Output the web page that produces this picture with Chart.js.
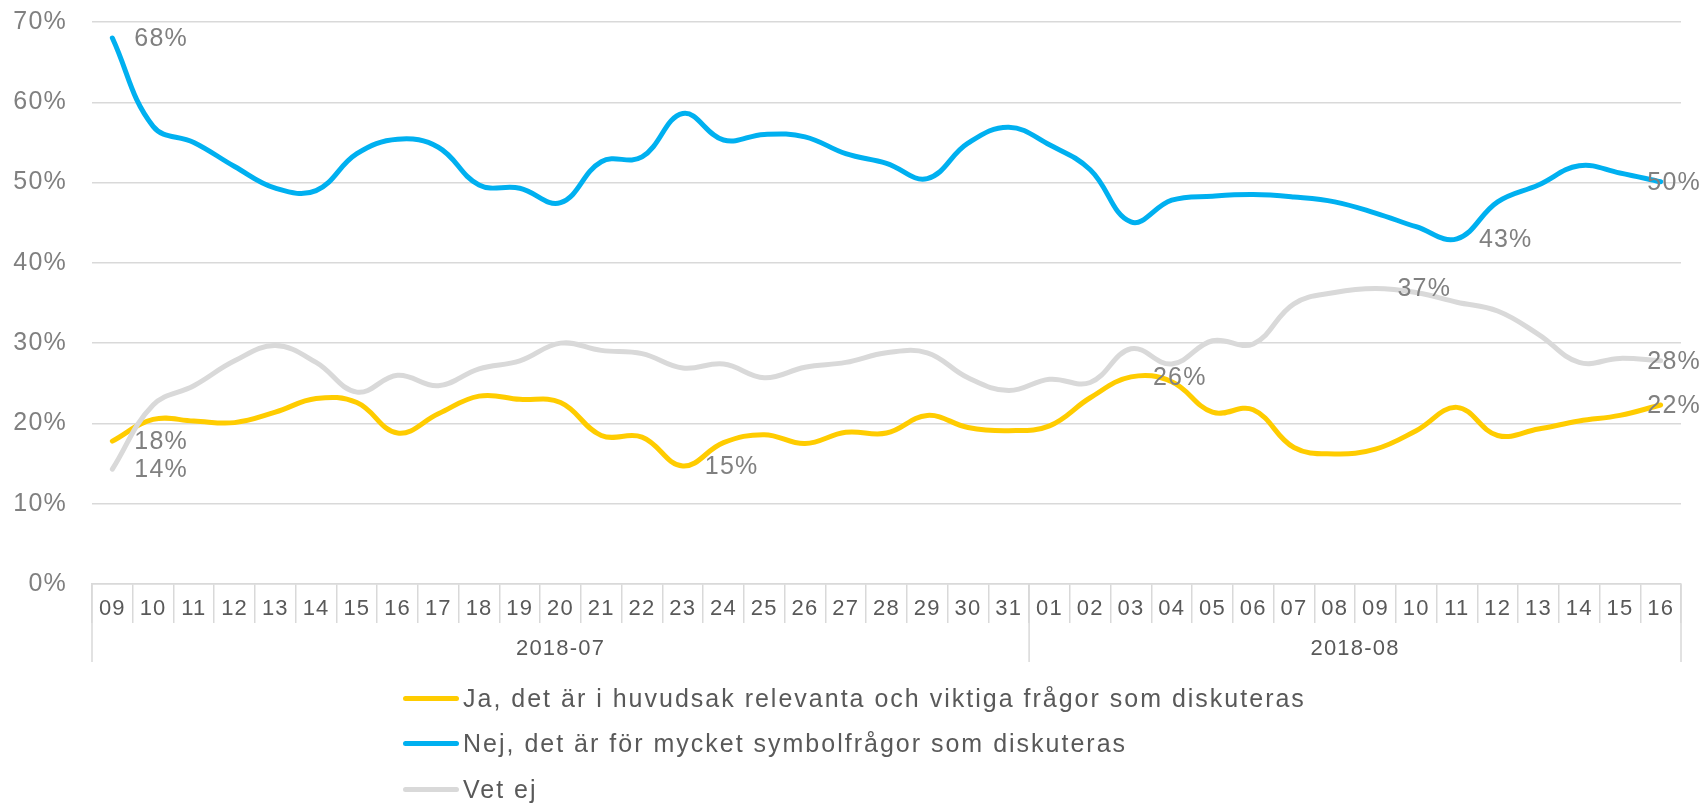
<!DOCTYPE html>
<html>
<head>
<meta charset="utf-8">
<script src="https://cdn.jsdelivr.net/npm/chart.js@4.4.1/dist/chart.umd.min.js"></script>
<style>
  html, body { margin: 0; padding: 0; background: #ffffff; }
  #wrap { position: relative; width: 1703px; height: 804px; overflow: hidden; }
  #legend { position: absolute; left: 403px; top: 0; }
  .item { position: absolute; left: 0; height: 30px; display: flex; align-items: center; white-space: nowrap; }
  .mark { display: inline-block; width: 56px; height: 5px; border-radius: 3px; margin-right: 4px; }
  .txt { font: 25px 'Liberation Sans', Arial, sans-serif; color: #595959; letter-spacing: 2px; }
</style>
</head>
<body>
<div id="wrap">
  <canvas id="c" width="1703" height="804"></canvas>
  <div id="legend"></div>
</div>
<script>
// ---- data ----
const days = ['09','10','11','12','13','14','15','16','17','18','19','20','21','22','23','24','25','26','27','28','29','30','31',
              '01','02','03','04','05','06','07','08','09','10','11','12','13','14','15','16'];
const monthLabels = ['2018-07', '2018-08'];
const monthSpans = [23, 16];

const seriesNames = [
  'Ja, det är i huvudsak relevanta och viktiga frågor som diskuteras',
  'Nej, det är för mycket symbolfrågor som diskuteras',
  'Vet ej'
];
const seriesColors = ['#FFCC00', '#00B0F0', '#D9D9D9'];

const jaValues = [17.8, 20.5, 20.3, 20.1, 21.4, 23.1, 22.6, 18.8, 21.2, 23.4, 23.0, 22.6, 18.5, 18.3, 14.7, 17.6, 18.6, 17.5, 18.9, 18.8,
                  21.0, 19.5, 19.1, 19.7, 23.2, 25.8, 25.2, 21.4, 21.7, 17.0, 16.2, 16.8, 19.1, 22.0, 18.5, 19.3, 20.3, 21.0, 22.3];
const nejValues = [68.0, 57.0, 55.0, 52.0, 49.3, 49.0, 53.6, 55.4, 54.4, 49.7, 49.3, 47.5, 52.6, 53.2, 58.6, 55.3, 56.0, 55.7, 53.6, 52.4,
                   50.5, 54.9, 56.9, 54.7, 51.6, 45.1, 47.8, 48.3, 48.5, 48.2, 47.6, 46.2, 44.5, 43.0, 47.6, 49.7, 52.1, 51.2, 50.1];
const vetEjValues = [14.3, 22.3, 24.7, 27.8, 29.7, 27.6, 23.9, 26.0, 24.7, 26.8, 27.8, 30.0, 29.1, 28.7, 26.9, 27.4, 25.7, 27.0, 27.6, 28.8,
                     28.8, 25.7, 24.1, 25.5, 25.1, 29.3, 27.4, 30.3, 29.9, 34.9, 36.3, 36.8, 36.3, 35.1, 34.0, 31.1, 27.6, 28.1, 27.8];

// which points carry a value label
const jaLabelIdx = [0, 14, 25, 38];
const nejLabelIdx = [0, 33, 38];
const vetEjLabelIdx = [0, 31, 38];

const yTicks = [0, 10, 20, 30, 40, 50, 60, 70];

// ---- chart ----
const FONT = "'Liberation Sans', Arial, sans-serif";
Chart.defaults.font.family = FONT;

const textSpacing = {
  id: 'textSpacing',
  beforeLayout(chart) { chart.ctx.letterSpacing = '1.2px'; },
  beforeDraw(chart) { chart.ctx.letterSpacing = '1.2px'; }
};

const pointLabels = {
  id: 'pointLabels',
  afterDatasetsDraw(chart) {
    const ctx = chart.ctx;
    ctx.save();
    ctx.font = '25px ' + FONT;
    ctx.fillStyle = '#808080';
    ctx.textBaseline = 'middle';
    ctx.textAlign = 'left';
    chart.data.datasets.forEach((ds, di) => {
      const meta = chart.getDatasetMeta(di);
      (ds.labelIdx || []).forEach(i => {
        const pt = meta.data[i];
        const txt = Math.round(ds.data[i]) + '%';
        const w = ctx.measureText(txt).width;
        let x = pt.x + 22;
        if (x + w > chart.width - 2) x = chart.width - 2 - w;
        ctx.fillText(txt, x, pt.y + 1);
      });
    });
    ctx.restore();
  }
};

const monthGroups = {
  id: 'monthGroups',
  afterDraw(chart) {
    const xs = chart.scales.x;
    const ctx = chart.ctx;
    const top = chart.chartArea.bottom;
    const step = xs.getPixelForValue(1) - xs.getPixelForValue(0);
    const edge = i => xs.getPixelForValue(0) - step / 2 + i * step;
    ctx.save();
    ctx.strokeStyle = '#d9d9d9';
    ctx.lineWidth = 1.5;
    ctx.font = '22px ' + FONT;
    ctx.fillStyle = '#595959';
    ctx.textAlign = 'center';
    ctx.textBaseline = 'middle';
    const bounds = [edge(0)];
    let start = 0;
    monthSpans.forEach((n, k) => {
      const a = edge(start), b = edge(start + n);
      bounds.push(b);
      ctx.fillText(monthLabels[k], (a + b) / 2, top + 65);
      start += n;
    });
    bounds.forEach(bx => {
      ctx.beginPath();
      ctx.moveTo(bx, top);
      ctx.lineTo(bx, top + 78);
      ctx.stroke();
    });
    ctx.restore();
  }
};

const values = [jaValues, nejValues, vetEjValues];
const labelIdx = [jaLabelIdx, nejLabelIdx, vetEjLabelIdx];
const orders = [2, 1, 0];

new Chart(document.getElementById('c'), {
  type: 'line',
  data: {
    labels: days,
    datasets: seriesNames.map((name, k) => ({
      label: name,
      data: values[k],
      labelIdx: labelIdx[k],
      borderColor: seriesColors[k],
      backgroundColor: seriesColors[k],
      borderWidth: 5,
      borderCapStyle: 'round',
      borderJoinStyle: 'round',
      pointRadius: 0,
      tension: 0.4,
      fill: false,
      order: orders[k]
    }))
  },
  options: {
    responsive: false,
    devicePixelRatio: 1,
    animation: false,
    layout: { padding: { left: 0, top: 22, right: 22, bottom: 0 } },
    plugins: { legend: { display: false }, tooltip: { enabled: false } },
    scales: {
      x: {
        offset: true,
        afterFit: s => { s.height = 220; },
        grid: { offset: true, drawOnChartArea: false, drawTicks: true, tickLength: 39, color: '#d9d9d9', lineWidth: 1.5 },
        border: { display: true, color: '#d9d9d9', width: 1.5 },
        ticks: { autoSkip: false, maxRotation: 0, minRotation: 0, padding: -27, color: '#595959', font: { size: 22 } }
      },
      y: {
        min: 0, max: 70,
        afterFit: s => { s.width = 92; s.paddingTop = 0; s.paddingBottom = 0; },
        afterBuildTicks: s => { s.ticks = yTicks.map(v => ({ value: v })); },
        grid: { color: '#d9d9d9', lineWidth: 1.5, drawTicks: false },
        border: { display: false },
        ticks: { padding: 25, color: '#808080', font: { size: 25 }, callback: v => v + '%' }
      }
    }
  },
  plugins: [textSpacing, pointLabels, monthGroups]
});

// ---- legend (HTML, built from the series arrays) ----
const legendCenters = [698, 743, 789];
const lg = document.getElementById('legend');
seriesNames.forEach((name, k) => {
  const it = document.createElement('div');
  it.className = 'item';
  it.style.top = (legendCenters[k] - 15) + 'px';
  const m = document.createElement('span');
  m.className = 'mark';
  m.style.background = seriesColors[k];
  const t = document.createElement('span');
  t.className = 'txt';
  t.textContent = name;
  it.appendChild(m); it.appendChild(t);
  lg.appendChild(it);
});
</script>
</body>
</html>
